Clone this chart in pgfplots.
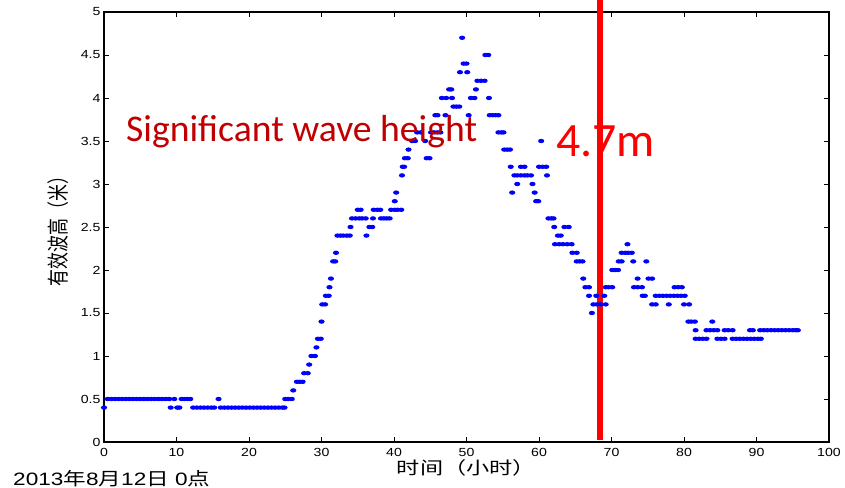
\documentclass[border=0pt]{standalone}
\usepackage{fontspec}
\setmainfont{Liberation Sans}
\newfontfamily\carlito{Carlito}
\newfontfamily\cjk{Noto Sans CJK SC}
\usepackage{graphicx}
\usepackage{pgfplots}
\pgfplotsset{compat=1.18}
\definecolor{sigred}{RGB}{192,0,0}
\pgfdeclareplotmark{ell}{\pgfpathellipse{\pgfpointorigin}{\pgfpoint{3.1bp}{0bp}}{\pgfpoint{0bp}{2.2bp}}\pgfusepathqfill}
\begin{document}
\begin{tikzpicture}
\useasboundingbox (0,0) rectangle (845bp,488bp);
\begin{axis}[
  at={(104bp,46bp)}, anchor=south west,
  width=725bp, height=430bp, scale only axis,
  xmin=0, xmax=100, ymin=0, ymax=5,
  xtick={0,10,20,30,40,50,60,70,80,90,100},
  ytick={0,0.5,1,1.5,2,2.5,3,3.5,4,4.5,5},
  tick align=inside, major tick length=5bp,
  tick style={black, line width=0.6bp},
  axis line style={black, line width=1.2bp},
  clip=false,
  /pgf/number format/assume math mode=true,
  ticklabel style={font=\fontsize{11.8}{12}\selectfont},
  xticklabel={\scalebox{1.2}[1]{\pgfmathprintnumber{\tick}}},
  yticklabel={\scalebox{1.2}[1]{\pgfmathprintnumber{\tick}}},
  xticklabel style={yshift=-3bp},
  xlabel={\scalebox{1.33}[1]{\cjk\fontsize{17.5}{18}\selectfont 时间（小时）}},
  xlabel style={at={(axis description cs:0.5,0)}, anchor=center, yshift=-26bp},
  ylabel={\scalebox{1}[1.3]{\cjk\fontsize{17}{18}\selectfont 有效波高（米）}},
  ylabel style={at={(axis description cs:-0.0634,0.5)}, anchor=center},
]
\addplot[only marks, mark=ell, color=blue, mark options={fill=blue}]
coordinates {
(0,0.4)
(0.5,0.5)(1,0.5)(1.5,0.5)(2,0.5)(2.5,0.5)(3,0.5)(3.5,0.5)(4,0.5)(4.5,0.5)
(5,0.5)(5.5,0.5)(6,0.5)(6.5,0.5)(7,0.5)(7.5,0.5)(8,0.5)(8.5,0.5)(9,0.5)
(9.2,0.4)(9.7,0.5)(10.1,0.4)(10.4,0.4)(10.7,0.5)(11.1,0.5)(11.5,0.5)(11.9,0.5)
(12.3,0.4)(12.8,0.4)(13.3,0.4)(13.8,0.4)(14.3,0.4)(14.8,0.4)(15.2,0.4)
(15.8,0.5)
(16.1,0.4)(16.6,0.4)(17.1,0.4)(17.6,0.4)(18.1,0.4)(18.6,0.4)(19.1,0.4)(19.6,0.4)
(20.1,0.4)(20.6,0.4)(21.1,0.4)(21.6,0.4)(22.1,0.4)(22.6,0.4)(23.1,0.4)(23.6,0.4)
(24.1,0.4)(24.6,0.4)(24.9,0.4)
(25.0,0.5)(25.4,0.5)(25.9,0.5)
(26.1,0.6)
(26.6,0.7)(27.0,0.7)(27.4,0.7)
(27.6,0.8)(28.1,0.8)
(28.3,0.9)
(28.6,1.0)(29.1,1.0)
(29.3,1.1)
(29.5,1.2)(29.9,1.2)
(30.0,1.4)
(30.1,1.6)(30.5,1.6)
(30.6,1.7)(31.0,1.7)
(31.1,1.8)
(31.3,1.9)
(31.6,2.1)(31.9,2.1)
(32.0,2.2)
(32.2,2.4)(32.6,2.4)(33.0,2.4)(33.5,2.4)(33.9,2.4)
(34.0,2.5)
(34.2,2.6)(34.7,2.6)(35.2,2.6)(35.6,2.6)(36.1,2.6)
(35.0,2.7)(35.4,2.7)
(36.2,2.4)
(36.6,2.5)(37.0,2.5)
(37.1,2.6)
(37.2,2.7)(37.7,2.7)(38.1,2.7)
(38.2,2.6)(38.6,2.6)(39.0,2.6)(39.4,2.6)
(39.6,2.7)(40.1,2.7)(40.5,2.7)(41.0,2.7)
(40.1,2.8)
(40.3,2.9)
(41.1,3.1)
(41.2,3.2)(41.4,3.2)
(41.5,3.3)(41.9,3.3)
(42.0,3.4)
(42.5,3.5)(42.9,3.5)
(43.2,3.6)(43.7,3.6)
(44.3,3.5)
(44.5,3.3)(44.9,3.3)
(45.1,3.6)(45.5,3.6)(46.0,3.6)(46.4,3.6)
(45.7,3.8)(46.0,3.8)
(47.1,3.8)
(46.6,4.0)(47.2,4.0)
(48.0,4.0)
(47.6,4.1)(47.9,4.1)
(48.2,3.9)(48.6,3.9)(49.0,3.9)
(49.1,4.3)
(49.6,4.4)(50.0,4.4)
(50.1,4.3)
(49.4,4.7)
(50.3,3.8)
(50.6,4.0)(51.1,4.0)
(51.3,4.1)
(51.5,4.2)(52.0,4.2)(52.5,4.2)
(52.6,4.5)(53.0,4.5)
(53.1,4.0)
(53.2,3.8)(53.6,3.8)(54.0,3.8)(54.4,3.8)
(54.4,3.6)(54.8,3.6)(55.1,3.6)
(55.2,3.4)(55.6,3.4)(56.0,3.4)
(56.1,3.2)
(56.6,3.1)(57.0,3.1)(57.5,3.1)(58.0,3.1)(58.4,3.1)(58.9,3.1)
(57.5,3.2)(58.0,3.2)
(57.0,3.0)(59.1,3.0)
(56.3,2.9)(59.4,2.9)
(59.6,2.8)(59.9,2.8)
(60.3,3.5)
(60.0,3.2)(60.5,3.2)(61.0,3.2)
(61.1,3.1)
(61.3,2.6)(61.7,2.6)(62.0,2.6)
(62.1,2.5)
(62.6,2.4)(63.0,2.4)
(63.5,2.5)(64.1,2.5)
(62.2,2.3)(62.8,2.3)(63.3,2.3)(63.9,2.3)(64.5,2.3)
(64.6,2.2)(65.2,2.2)
(65.2,2.1)(65.6,2.1)(66.0,2.1)
(66.1,1.9)
(66.4,1.8)(66.9,1.8)
(66.9,1.7)(67.9,1.7)
(67.5,1.6)(68.0,1.6)(68.5,1.6)(69.2,1.6)
(67.3,1.5)
(69.2,1.8)(69.6,1.8)(70.1,1.8)
(69.0,1.7)
(70.1,2.0)(70.5,2.0)(70.9,2.0)
(71.0,2.1)(71.4,2.1)
(71.4,2.2)(71.9,2.2)(72.3,2.2)(72.8,2.2)
(72.2,2.3)
(73.0,2.1)(74.8,2.1)
(73.1,1.8)(73.6,1.8)(74.2,1.8)
(73.6,1.9)
(75.1,1.9)(75.6,1.9)
(74.3,1.7)(74.6,1.7)
(75.6,1.6)(76.1,1.6)
(76.1,1.7)(76.6,1.7)(77.1,1.7)(77.6,1.7)(78.1,1.7)(78.6,1.7)(79.1,1.7)(79.6,1.7)(80.1,1.7)
(77.9,1.6)
(78.7,1.8)(79.2,1.8)(79.7,1.8)
(80.0,1.6)(80.7,1.6)
(80.6,1.4)(81.0,1.4)(81.5,1.4)
(83.9,1.4)
(81.6,1.3)
(81.6,1.2)(82.1,1.2)(82.6,1.2)(83.1,1.2)
(83.1,1.3)(83.6,1.3)(84.1,1.3)(84.6,1.3)
(84.6,1.2)(85.1,1.2)(85.6,1.2)
(85.6,1.3)(86.1,1.3)(86.7,1.3)
(86.7,1.2)(87.2,1.2)(87.7,1.2)(88.2,1.2)(88.7,1.2)(89.2,1.2)(89.7,1.2)(90.2,1.2)(90.6,1.2)
(89.1,1.3)(89.5,1.3)
(90.5,1.3)(91.0,1.3)(91.5,1.3)(92.0,1.3)(92.5,1.3)(93.0,1.3)(93.5,1.3)(94.0,1.3)(94.5,1.3)(95.0,1.3)(95.4,1.3)(95.7,1.3)
};
\addplot[red, line width=5.7bp, no marks] coordinates {(68.45,0.02) (68.45,5.14)};
\end{axis}
\node[anchor=base west, inner sep=0, text=sigred] at (126bp,346bp) {\carlito\fontsize{37.8}{40}\selectfont Significant wave height};
\node[anchor=base west, inner sep=0, text=red] at (556bp,331bp) {\carlito\fontsize{48}{50}\selectfont 4.7m};
\node[anchor=base west, inner sep=0] at (13bp,3bp) {\scalebox{1.26}[1]{\fontsize{18}{18}\selectfont 2013{\cjk 年}8{\cjk 月}12{\cjk 日} 0{\cjk 点}}};
\end{tikzpicture}
\end{document}
